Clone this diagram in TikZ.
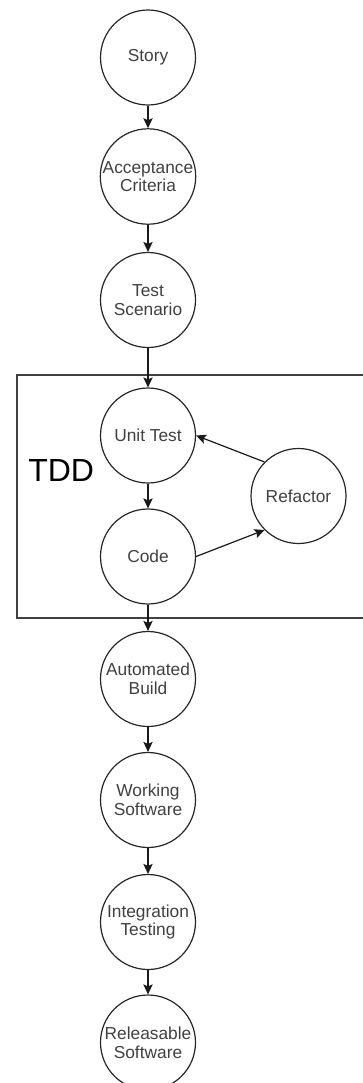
\documentclass[tikz,border=0pt]{standalone}
\usepackage{fontspec}
\setmainfont{Liberation Sans}
\usetikzlibrary{arrows.meta}
\tikzset{
  stage/.style={circle, draw=black!85, line width=0.9pt, minimum size=71.25pt,
    inner sep=0pt, align=center, font=\fontsize{13}{14}\selectfont, text=black!75},
  flow/.style={-{Stealth[length=7.5pt,width=7pt,inset=1.5pt]}, line width=0.9pt, draw=black!90},
  tddbox/.style={draw=black!75, line width=0.9pt},
  tddlab/.style={font=\fontsize{24}{28}\selectfont, anchor=base west, inner sep=0pt},
}

\begin{document}
\begin{tikzpicture}[x=0.75pt,y=-0.75pt]
  \useasboundingbox (0,0) rectangle (363,1083);
  % TDD frame
  \draw[tddbox] (17,375) rectangle (372,618);
  \node[tddlab] (tdd) at (28,481) {TDD};
  % stages
  \node[stage] (story) at (148,57.5) {Story};
  \node[stage] (accept) at (148,176.5) {Acceptance\\Criteria};
  \node[stage] (scen) at (148,300) {Test\\Scenario};
  \node[stage] (unit) at (148,435.5) {Unit Test};
  \node[stage] (code) at (148,556.5) {Code};
  \node[stage] (refactor) at (298.5,496) {Refactor};
  \node[stage] (build) at (148,679) {Automated\\Build};
  \node[stage] (work) at (148,800) {Working\\Software};
  \node[stage] (integ) at (148,922) {Integration\\Testing};
  \node[stage] (release) at (148,1042.5) {Releasable\\Software};
  % arrows
  \foreach \a/\b in {story/accept, accept/scen, scen/unit, unit/code,
      code/build, build/work, work/integ, integ/release}
    \draw[flow] (\a) -- (\b);
  \draw[flow] (refactor.135) -- (unit.east);
  \draw[flow] (code.east) -- (refactor.225);
\end{tikzpicture}
\end{document}
